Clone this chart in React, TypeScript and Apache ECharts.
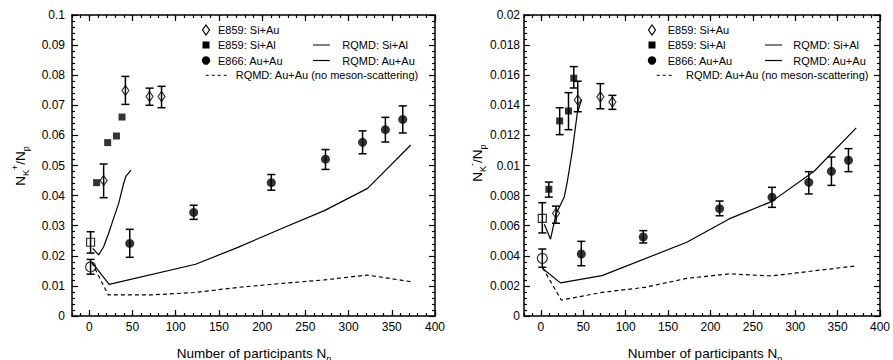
import React, { useEffect, useRef } from 'react';
import * as echarts from 'echarts';

// ---------- Left panel: N_K+ / N_p ----------
const kpSiAuNp = [16.6, 41.8, 69.7, 83.6];
const kpSiAuVal = [0.045, 0.0749, 0.0729, 0.0729];
const kpSiAuLo = [0.0393, 0.0703, 0.07, 0.0692];
const kpSiAuHi = [0.0505, 0.0796, 0.0757, 0.0763];

const kpSiAlNp = [8.5, 21.3, 31.4, 37.9];
const kpSiAlVal = [0.0443, 0.0576, 0.0598, 0.0661];

const kpAuAuNp = [46.8, 120.8, 210.6, 273.3, 316.2, 342.6, 362.7];
const kpAuAuVal = [0.0241, 0.0344, 0.0443, 0.0521, 0.0577, 0.0619, 0.0653];
const kpAuAuLo = [0.0195, 0.0321, 0.0418, 0.0487, 0.0539, 0.0578, 0.0608];
const kpAuAuHi = [0.0288, 0.0368, 0.047, 0.0553, 0.0615, 0.066, 0.0698];

const kpOpenSqNp = [1.5];
const kpOpenSqVal = [0.0245];
const kpOpenSqLo = [0.0209];
const kpOpenSqHi = [0.028];

const kpOpenCircNp = [1.5];
const kpOpenCircVal = [0.0163];
const kpOpenCircLo = [0.0139];
const kpOpenCircHi = [0.0188];

const kpRqmdSiAlNp = [4, 10.8, 16.6, 22.4, 28.2, 34, 39.8, 42.5, 48.3];
const kpRqmdSiAlVal = [0.0225, 0.0203, 0.023, 0.0275, 0.0325, 0.0374, 0.0441, 0.0465, 0.0485];

const kpRqmdAuAuNp = [3, 23, 123, 172, 222, 272, 322, 372];
const kpRqmdAuAuVal = [0.0178, 0.0105, 0.0172, 0.0228, 0.029, 0.035, 0.0424, 0.0568];

const kpRqmdNoMesNp = [3, 22, 72, 122, 172, 222, 272, 322, 372];
const kpRqmdNoMesVal = [0.0178, 0.007, 0.007, 0.0078, 0.0095, 0.0108, 0.012, 0.0136, 0.0114];

// ---------- Right panel: N_K- / N_p ----------
const kmSiAuNp = [17.8, 43.4, 70.1, 84.3];
const kmSiAuVal = [0.00682, 0.01435, 0.01457, 0.01422];
const kmSiAuLo = [0.00616, 0.01357, 0.01377, 0.01373];
const kmSiAuHi = [0.0073, 0.0156, 0.01544, 0.01466];

const kmSiAlNp = [9.3, 22.1, 32.5, 38.7];
const kmSiAlVal = [0.00842, 0.01296, 0.01362, 0.0158];
const kmSiAlLo = [0.0079, 0.01205, 0.01238, 0.01515];
const kmSiAlHi = [0.0089, 0.01384, 0.01484, 0.01657];

const kmAuAuNp = [47.6, 120.7, 210.8, 272.6, 316, 342.7, 362.8];
const kmAuAuVal = [0.00412, 0.00525, 0.00713, 0.00789, 0.00888, 0.00961, 0.01035];
const kmAuAuLo = [0.00334, 0.00485, 0.00666, 0.00722, 0.00811, 0.00868, 0.00959];
const kmAuAuHi = [0.00496, 0.00567, 0.00764, 0.00855, 0.00959, 0.01056, 0.01112];

const kmOpenSqNp = [1.6];
const kmOpenSqVal = [0.00649];
const kmOpenSqLo = [0.00552];
const kmOpenSqHi = [0.00753];

const kmOpenCircNp = [1.6];
const kmOpenCircVal = [0.00383];
const kmOpenCircLo = [0.00324];
const kmOpenCircHi = [0.00445];

const kmRqmdSiAlNp = [4, 11.3, 17.9, 27.5, 31.3, 37.1, 42.9, 48];
const kmRqmdSiAlVal = [0.0061, 0.0051, 0.0068, 0.0079, 0.009, 0.011, 0.0135, 0.0144];

const kmRqmdAuAuNp = [1.6, 23, 72, 172, 222, 272, 322, 372];
const kmRqmdAuAuVal = [0.00317, 0.0022, 0.00268, 0.0049, 0.00645, 0.0076, 0.0096, 0.0125];

const kmRqmdNoMesNp = [2, 24, 72, 122, 172, 222, 272, 322, 372];
const kmRqmdNoMesVal = [0.0032, 0.00106, 0.00157, 0.0019, 0.0025, 0.0028, 0.00266, 0.003, 0.00333];

const xMajorTicks = [0, 50, 100, 150, 200, 250, 300, 350, 400];

const FONT = '"Liberation Sans", Arial, Helvetica, sans-serif';
const BLACK = '#000';

const zip2 = (a: number[], b: number[]) => a.map((v, i) => [v, b[i]]);
const zip3 = (a: number[], b: number[], c: number[]) => a.map((v, i) => [v, b[i], c[i]]);

function errRender(params: any, api: any) {
  const x = api.value(0);
  const lo = api.value(1);
  const hi = api.value(2);
  const t = api.coord([x, hi]);
  const b = api.coord([x, lo]);
  const w = 4;
  const st = { stroke: BLACK, lineWidth: 1.5 };
  return {
    type: 'group',
    children: [
      { type: 'line', shape: { x1: t[0], y1: t[1], x2: b[0], y2: b[1] }, style: st },
      { type: 'line', shape: { x1: t[0] - w, y1: t[1], x2: t[0] + w, y2: t[1] }, style: st },
      { type: 'line', shape: { x1: b[0] - w, y1: b[1], x2: b[0] + w, y2: b[1] }, style: st },
    ],
  };
}

function makeAxes(g: number, yMax: number, yInt: number, labelMargin: number, dec: number) {
  const tickStyle = { color: BLACK, width: 1.2 };
  const xBase = {
    gridIndex: g,
    type: 'value',
    min: -20,
    max: 400,
    splitLine: { show: false },
  };
  const xAxes = [
    {
      ...xBase,
      position: 'bottom',
      interval: 10,
      axisLine: { show: true, onZero: false, lineStyle: { color: BLACK, width: 1.5 } },
      axisTick: { show: true, inside: true, length: 3, lineStyle: tickStyle },
      axisLabel: {
        color: BLACK,
        fontSize: 12,
        fontFamily: FONT,
        margin: 5,
        formatter: (v: number) => (Math.round(v) % 50 === 0 && v >= 0 ? String(Math.round(v)) : ''),
      },
    },
    {
      ...xBase,
      position: 'bottom',
      axisLine: { show: false, onZero: false },
      axisTick: { show: true, inside: true, length: 6, customValues: xMajorTicks, lineStyle: tickStyle },
      axisLabel: { show: false },
    },
    {
      ...xBase,
      position: 'top',
      interval: 10,
      axisLine: { show: true, onZero: false, lineStyle: { color: BLACK, width: 1.5 } },
      axisTick: { show: true, inside: true, length: 3, lineStyle: tickStyle },
      axisLabel: { show: false },
    },
    {
      ...xBase,
      position: 'top',
      axisLine: { show: false, onZero: false },
      axisTick: { show: true, inside: true, length: 6, customValues: xMajorTicks, lineStyle: tickStyle },
      axisLabel: { show: false },
    },
  ];
  const yBase = {
    gridIndex: g,
    type: 'value',
    min: 0,
    max: yMax,
    interval: yInt,
    splitLine: { show: false },
    axisTick: { show: true, inside: true, length: 6, lineStyle: tickStyle },
    minorTick: { show: true, splitNumber: 5, length: 3, lineStyle: tickStyle },
    minorSplitLine: { show: false },
  };
  const yAxes = [
    {
      ...yBase,
      position: 'left',
      axisLine: { show: true, onZero: false, lineStyle: { color: BLACK, width: 1.5 } },
      axisLabel: {
        color: BLACK,
        fontSize: 12,
        fontFamily: FONT,
        margin: labelMargin,
        formatter: (v: number) => String(parseFloat(v.toFixed(dec))),
      },
    },
    {
      ...yBase,
      position: 'right',
      axisLine: { show: true, onZero: false, lineStyle: { color: BLACK, width: 1.5 } },
      axisLabel: { show: false },
    },
  ];
  return { xAxes, yAxes };
}

function makeSeries(xi: number, yi: number, d: any) {
  const common = { xAxisIndex: xi, yAxisIndex: yi };
  const openStyle = { color: 'rgba(0,0,0,0)', borderColor: BLACK, borderWidth: 1.2 };
  const filled = { color: BLACK };
  const series: any[] = [
    { ...common, type: 'line', name: 'RQMD: Si+Al', data: zip2(d.rSiAlNp, d.rSiAlVal), showSymbol: false, lineStyle: { color: BLACK, width: 1.2 }, z: 2 },
    { ...common, type: 'line', name: 'RQMD: Au+Au', data: zip2(d.rAuAuNp, d.rAuAuVal), showSymbol: false, lineStyle: { color: BLACK, width: 1.2 }, z: 2 },
    { ...common, type: 'line', name: 'RQMD: Au+Au (no meson-scattering)', data: zip2(d.rNoNp, d.rNoVal), showSymbol: false, lineStyle: { color: BLACK, width: 1.2, type: [4, 3] }, z: 2 },
    { ...common, type: 'custom', name: 'err SiAu', renderItem: errRender, data: zip3(d.siAuNp, d.siAuLo, d.siAuHi), encode: { x: 0, y: [1, 2] }, z: 3 },
    { ...common, type: 'custom', name: 'err AuAu', renderItem: errRender, data: zip3(d.auAuNp, d.auAuLo, d.auAuHi), encode: { x: 0, y: [1, 2] }, z: 3 },
    { ...common, type: 'custom', name: 'err open sq', renderItem: errRender, data: zip3(d.osNp, d.osLo, d.osHi), encode: { x: 0, y: [1, 2] }, z: 3 },
    { ...common, type: 'custom', name: 'err open circ', renderItem: errRender, data: zip3(d.ocNp, d.ocLo, d.ocHi), encode: { x: 0, y: [1, 2] }, z: 3 },
    { ...common, type: 'scatter', name: 'E859: Si+Au', data: zip2(d.siAuNp, d.siAuVal), symbol: 'diamond', symbolSize: [7, 10], itemStyle: openStyle, z: 4 },
    { ...common, type: 'scatter', name: 'E859: Si+Al', data: zip2(d.siAlNp, d.siAlVal), symbol: 'rect', symbolSize: 7, itemStyle: filled, z: 4 },
    { ...common, type: 'scatter', name: 'E866: Au+Au', data: zip2(d.auAuNp, d.auAuVal), symbol: 'circle', symbolSize: 9, itemStyle: filled, z: 4 },
    { ...common, type: 'scatter', name: 'open square', data: zip2(d.osNp, d.osVal), symbol: 'rect', symbolSize: 8, itemStyle: openStyle, z: 4 },
    { ...common, type: 'scatter', name: 'open circle', data: zip2(d.ocNp, d.ocVal), symbol: 'circle', symbolSize: 10, itemStyle: openStyle, z: 4 },
  ];
  if (d.siAlLo) {
    series.push({ ...common, type: 'custom', name: 'err SiAl', renderItem: errRender, data: zip3(d.siAlNp, d.siAlLo, d.siAlHi), encode: { x: 0, y: [1, 2] }, z: 3 });
  }
  return series;
}

function legendGraphics(p: any) {
  const txt = (x: number, y: number, s: string) => ({
    type: 'text',
    x,
    y,
    style: { text: s, fill: BLACK, fontSize: 11, fontFamily: FONT, align: 'left', verticalAlign: 'middle' },
  });
  return [
    { type: 'polygon', shape: { points: [[p.mx, p.y1 - 5], [p.mx + 3.5, p.y1], [p.mx, p.y1 + 5], [p.mx - 3.5, p.y1]] }, style: { fill: 'none', stroke: BLACK, lineWidth: 1.2 } },
    txt(p.tx, p.y1, 'E859: Si+Au'),
    { type: 'rect', shape: { x: p.mx - 3.5, y: p.y2 - 3.5, width: 7, height: 7 }, style: { fill: BLACK } },
    txt(p.tx, p.y2, 'E859: Si+Al'),
    { type: 'circle', shape: { cx: p.mx, cy: p.y3, r: 4.2 }, style: { fill: BLACK } },
    txt(p.tx, p.y3, 'E866: Au+Au'),
    { type: 'line', shape: { x1: p.dx1, y1: p.y4, x2: p.dx2, y2: p.y4 }, style: { stroke: BLACK, lineWidth: 1, lineDash: [3, 3] } },
    txt(p.dtx, p.y4, 'RQMD: Au+Au (no meson-scattering)'),
    { type: 'line', shape: { x1: p.lx1, y1: p.y2, x2: p.lx2, y2: p.y2 }, style: { stroke: BLACK, lineWidth: 1 } },
    txt(p.ltx, p.y2, 'RQMD: Si+Al'),
    { type: 'line', shape: { x1: p.lx1, y1: p.y3, x2: p.lx2, y2: p.y3 }, style: { stroke: BLACK, lineWidth: 1.2 } },
    txt(p.ltx, p.y3, 'RQMD: Au+Au'),
  ];
}

const titleRich = {
  sub: { fontSize: 9, fontFamily: FONT, fill: BLACK, verticalAlign: 'bottom', lineHeight: 10 },
  sup: { fontSize: 9, fontFamily: FONT, fill: BLACK, verticalAlign: 'top', lineHeight: 10 },
};

function titleText(x: number, y: number, text: string, rot: number) {
  return {
    type: 'text',
    x,
    y,
    rotation: rot,
    style: {
      text,
      fill: BLACK,
      fontSize: 13.5,
      fontFamily: FONT,
      lineHeight: 20,
      align: 'center',
      verticalAlign: 'middle',
      rich: titleRich,
    },
  };
}

export default function App() {
  const ref = useRef<HTMLDivElement>(null);
  useEffect(() => {
    document.body.style.margin = '0';
    if (!ref.current) return;
    const chart = echarts.init(ref.current, undefined, { renderer: 'svg' });
    const left = makeAxes(0, 0.1, 0.01, 7, 3);
    const right = makeAxes(1, 0.02, 0.002, 4, 4);
    const leftData = {
      siAuNp: kpSiAuNp, siAuVal: kpSiAuVal, siAuLo: kpSiAuLo, siAuHi: kpSiAuHi,
      siAlNp: kpSiAlNp, siAlVal: kpSiAlVal,
      auAuNp: kpAuAuNp, auAuVal: kpAuAuVal, auAuLo: kpAuAuLo, auAuHi: kpAuAuHi,
      osNp: kpOpenSqNp, osVal: kpOpenSqVal, osLo: kpOpenSqLo, osHi: kpOpenSqHi,
      ocNp: kpOpenCircNp, ocVal: kpOpenCircVal, ocLo: kpOpenCircLo, ocHi: kpOpenCircHi,
      rSiAlNp: kpRqmdSiAlNp, rSiAlVal: kpRqmdSiAlVal,
      rAuAuNp: kpRqmdAuAuNp, rAuAuVal: kpRqmdAuAuVal,
      rNoNp: kpRqmdNoMesNp, rNoVal: kpRqmdNoMesVal,
    };
    const rightData = {
      siAuNp: kmSiAuNp, siAuVal: kmSiAuVal, siAuLo: kmSiAuLo, siAuHi: kmSiAuHi,
      siAlNp: kmSiAlNp, siAlVal: kmSiAlVal, siAlLo: kmSiAlLo, siAlHi: kmSiAlHi,
      auAuNp: kmAuAuNp, auAuVal: kmAuAuVal, auAuLo: kmAuAuLo, auAuHi: kmAuAuHi,
      osNp: kmOpenSqNp, osVal: kmOpenSqVal, osLo: kmOpenSqLo, osHi: kmOpenSqHi,
      ocNp: kmOpenCircNp, ocVal: kmOpenCircVal, ocLo: kmOpenCircLo, ocHi: kmOpenCircHi,
      rSiAlNp: kmRqmdSiAlNp, rSiAlVal: kmRqmdSiAlVal,
      rAuAuNp: kmRqmdAuAuNp, rAuAuVal: kmRqmdAuAuVal,
      rNoNp: kmRqmdNoMesNp, rNoVal: kmRqmdNoMesVal,
    };
    const option: any = {
      animation: false,
      backgroundColor: '#fff',
      grid: [
        { left: 72, top: 15, width: 363, height: 301 },
        { left: 524, top: 15, width: 362, height: 301 },
      ],
      xAxis: [...left.xAxes, ...right.xAxes],
      yAxis: [...left.yAxes, ...right.yAxes],
      series: [...makeSeries(0, 0, leftData), ...makeSeries(4, 2, rightData)],
      graphic: [
        ...legendGraphics({ mx: 206, tx: 218, y1: 30, y2: 45, y3: 60.5, y4: 75.3, dx1: 205.7, dx2: 227, dtx: 235.7, lx1: 313, lx2: 330, ltx: 342.3 }),
        ...legendGraphics({ mx: 652, tx: 667.7, y1: 30, y2: 45, y3: 60.5, y4: 75.3, dx1: 656.7, dx2: 672, dtx: 686, lx1: 765, lx2: 782, ltx: 793.3 }),
        titleText(20, 166, 'N{sub|K}{sup|+}/N{sub|p}', Math.PI / 2),
        titleText(477, 163, 'N{sub|K}{sup|-}/N{sub|p}', Math.PI / 2),
        titleText(254, 353, 'Number of participants N{sub|p}', 0),
        titleText(705, 353, 'Number of participants N{sub|p}', 0),
      ],
    };
    chart.setOption(option);
    return () => chart.dispose();
  }, []);
  return <div ref={ref} style={{ width: 893, height: 360 }} />;
}
